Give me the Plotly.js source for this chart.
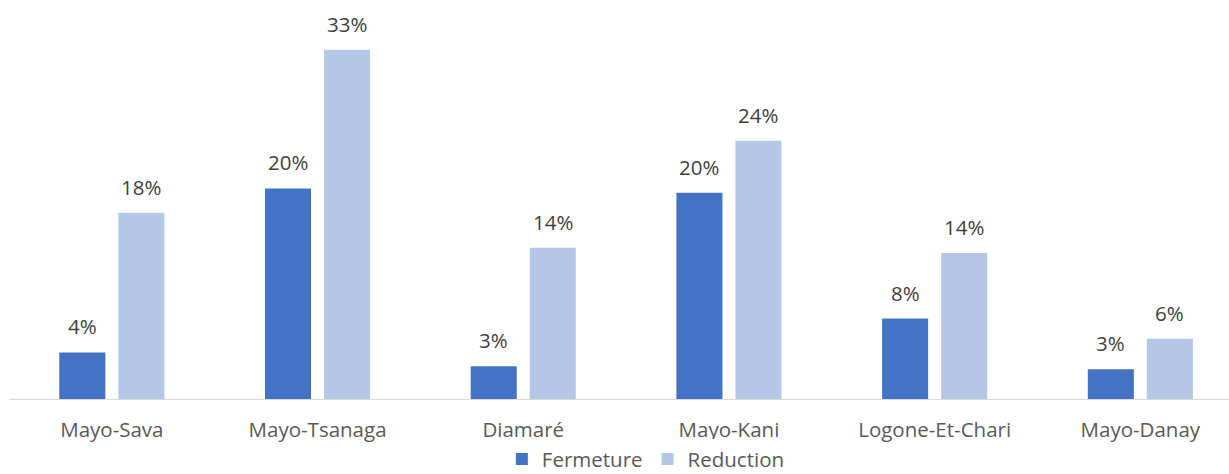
<!DOCTYPE html>
<html>
<head>
<meta charset="utf-8">
<script src="https://cdn.plot.ly/plotly-3.0.1.min.js"></script>
<style>html,body{margin:0;padding:0;background:#fff;}#chart{width:1229px;height:474px;}</style>
</head>
<body>
<div id="chart"></div>
<script>
var categories = ["Mayo-Sava", "Mayo-Tsanaga", "Diamaré", "Mayo-Kani", "Logone-Et-Chari", "Mayo-Danay"];
var fermeture = [4.4, 19.9, 3.1, 19.5, 7.6, 2.8];
var reduction = [17.6, 33.0, 14.3, 24.4, 13.8, 5.7];
var fermetureLabels = ["4%", "20%", "3%", "20%", "8%", "3%"];
var reductionLabels = ["18%", "33%", "14%", "24%", "14%", "6%"];
var seriesNames = ["Fermeture", "Reduction"];

var font = "'Open Sans', 'Noto Sans', sans-serif";

var traces = [
  {type: "bar", name: seriesNames[0], x: categories, y: fermeture,
   marker: {color: "#4472C4"}, hoverinfo: "none"},
  {type: "bar", name: seriesNames[1], x: categories, y: reduction,
   marker: {color: "#B4C7E7"}, hoverinfo: "none"}
];

var annotations = [];
var slot = 29.5;
categories.forEach(function (c, i) {
  annotations.push({x: c, y: fermeture[i], xref: "x", yref: "y", text: fermetureLabels[i],
    showarrow: false, xshift: -slot, yshift: 10, yanchor: "bottom",
    font: {family: font, size: 20.5, color: "#404040"}});
  annotations.push({x: c, y: reduction[i], xref: "x", yref: "y", text: reductionLabels[i],
    showarrow: false, xshift: slot, yshift: 10, yanchor: "bottom",
    font: {family: font, size: 20.5, color: "#404040"}});
});

var layout = {
  width: 1229, height: 474,
  margin: {l: 9, r: 0, t: 18, b: 75, autoexpand: false},
  paper_bgcolor: "#ffffff", plot_bgcolor: "#ffffff",
  barmode: "group", bargap: 0.426, bargroupgap: 0.22,
  showlegend: true,
  legend: {orientation: "h", x: 0.522, xanchor: "center", y: -0.158, yanchor: "middle",
    font: {family: font, size: 20.5, color: "#595959"}, traceorder: "normal"},
  xaxis: {type: "category", range: [-0.5, 5.431], showline: true, linecolor: "#d9d9d9", linewidth: 1,
    showgrid: false, zeroline: false, ticks: "", ticklabelstandoff: 12,
    tickfont: {family: font, size: 20.5, color: "#595959"}, fixedrange: true},
  yaxis: {range: [0, 36], showgrid: false, zeroline: false, showticklabels: false, showline: false,
    ticks: "", fixedrange: true},
  annotations: annotations
};

Plotly.newPlot("chart", traces, layout, {displayModeBar: false, staticPlot: true});
</script>
</body>
</html>
